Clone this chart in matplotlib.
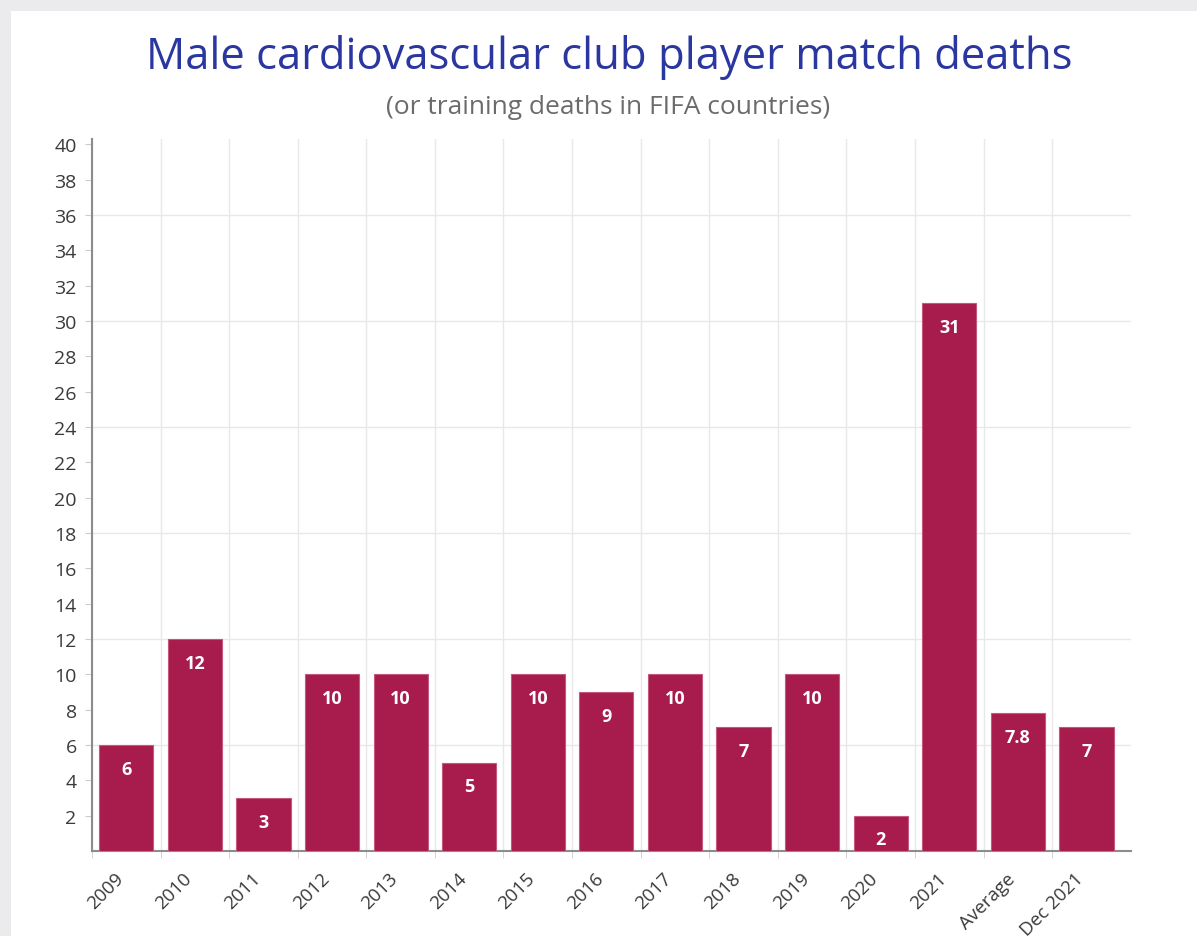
import matplotlib.pyplot as plt
from matplotlib.patches import Rectangle
from matplotlib.ticker import MultipleLocator
from matplotlib.transforms import ScaledTranslation

plt.rcParams['font.family'] = ['Open Sans', 'DejaVu Sans']

categories = ['2009', '2010', '2011', '2012', '2013', '2014', '2015', '2016',
              '2017', '2018', '2019', '2020', '2021', 'Average', 'Dec 2021']
deaths = [6, 12, 3, 10, 10, 5, 10, 9, 10, 7, 10, 2, 31, 7.8, 7]
value_labels = ['6', '12', '3', '10', '10', '5', '10', '9', '10', '7', '10', '2', '31', '7.8', '7']

bar_color = '#a81b4d'

fig = plt.figure(figsize=(11.97, 9.37), dpi=100, facecolor='#ebebed')
bg = Rectangle((11 / 1197, 0), 1, (937 - 12) / 937, transform=fig.transFigure,
               facecolor='white', edgecolor='none', zorder=-10)
fig.patches.append(bg)

ax = fig.add_axes([92 / 1197, 85 / 937, 1039 / 1197, 712 / 937])
ax.set_facecolor('white')

x = range(len(categories))
ax.bar(x, deaths, width=0.79, color=bar_color, edgecolor='#c4587c', linewidth=0.8, zorder=3)

for xi, v, lab in zip(x, deaths, value_labels):
    ax.annotate(lab, (xi, v), xytext=(0, -17), textcoords='offset points',
                ha='center', va='center', color='white', fontsize=13,
                fontweight='bold', zorder=4)

ax.set_xlim(-0.5, 14.65)
ax.set_ylim(0, 40.3)

ax.set_xticks(list(x))
ax.set_xticklabels(categories, rotation=45, ha='right', rotation_mode='anchor',
                   fontsize=13.5, color='#3a3a3a')
ax.tick_params(axis='x', which='major', length=0, pad=13)
# nudge the rotated labels left so they end under the bar centres
shift = ScaledTranslation(-12 / 100, 0, fig.dpi_scale_trans)
for t in ax.get_xticklabels():
    t.set_transform(t.get_transform() + shift)
ax.set_xticks([i - 0.5 for i in range(15)], minor=True)
ax.tick_params(axis='x', which='minor', length=5, color='#cccccc')

ax.set_yticks(range(2, 41, 2))
ax.tick_params(axis='y', which='major', length=5, color='#cccccc', labelsize=14,
               labelcolor='#3a3a3a', pad=6)
ax.yaxis.set_minor_locator(MultipleLocator(6))
ax.yaxis.remove_overlapping_locs = False

ax.grid(True, axis='x', which='minor', color='#e8e8e8', linewidth=1, zorder=0)
ax.grid(True, axis='y', which='minor', color='#e8e8e8', linewidth=1, zorder=0)
ax.tick_params(axis='y', which='minor', length=0)

for s in ['top', 'right']:
    ax.spines[s].set_visible(False)
for s in ['left', 'bottom']:
    ax.spines[s].set_color('#8c8c8c')
    ax.spines[s].set_linewidth(1.5)

fig.text(609 / 1197, 1 - 57 / 937, 'Male cardiovascular club player match deaths',
         ha='center', va='center', fontsize=31.4, color='#2b37a0')
fig.text(608 / 1197, 1 - 108 / 937, '(or training deaths in FIFA countries)',
         ha='center', va='center', fontsize=19, color='#6b6b6b')

fig.savefig('out.png', dpi=100, facecolor=fig.get_facecolor())
